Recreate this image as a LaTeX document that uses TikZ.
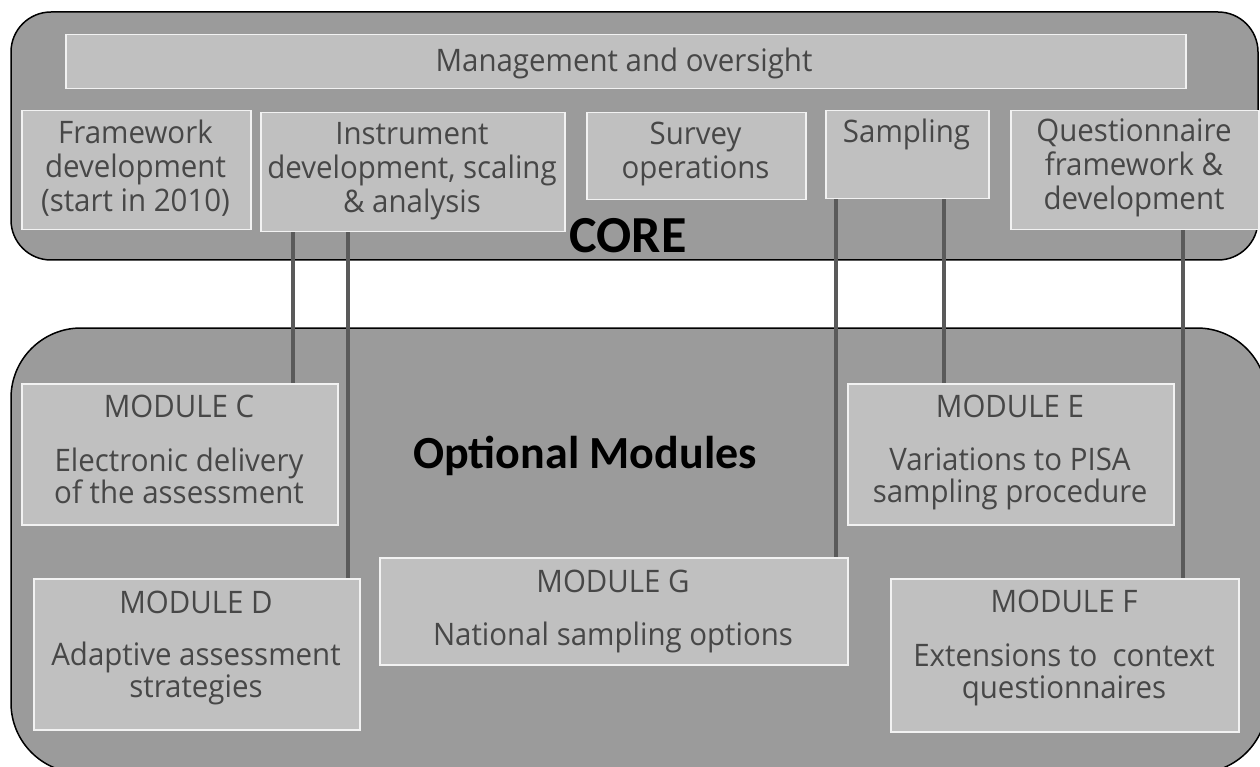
\documentclass[tikz,border=0pt]{standalone}
\usepackage{fontspec}
\setmainfont{Open Sans}[FakeStretch=0.95]
\newfontfamily\titlefont{Carlito}
\definecolor{panel}{HTML}{9B9B9B}
\definecolor{boxfill}{HTML}{C0C0C0}
\definecolor{boxline}{HTML}{F2F2F2}
\definecolor{ink}{HTML}{474747}
\definecolor{linkgray}{HTML}{5A5A5A}
\tikzset{
  panelshape/.style={draw=black, line width=1.5pt, fill=panel},
  modbox/.style={draw=boxline, fill=boxfill, line width=1.5pt, inner sep=0pt, anchor=north west},
  % multi-line texts are placed by the baseline of their last line
  txt/.style={text=ink, font=\fontsize{31}{34}\selectfont, align=center, anchor=base, inner sep=0pt},
  bodytxt/.style={txt, font=\fontsize{31}{32.5}\selectfont},
  heading/.style={text=black, inner sep=0pt, anchor=base},
  connector/.style={draw=linkgray, line width=4pt}
}
\begin{document}
\begin{tikzpicture}[x=1pt,y=-1pt]
\useasboundingbox (0,0) rectangle (1260,767);
\clip (0,0) rectangle (1260,767);

% the two rounded panels
\draw[panelshape, rounded corners=40pt] (11,12) rectangle (1258,260);
\draw[panelshape, rounded corners=70pt] (11,328) rectangle (1267,773);

% core boxes
\node[modbox, minimum width=1120, minimum height=54] (mgmt) at (65,34) {};
\node[modbox, minimum width=229, minimum height=119] (fw) at (21,110) {};
\node[modbox, minimum width=304, minimum height=119] (instr) at (260,112) {};
\node[modbox, minimum width=219, minimum height=87] (survey) at (586,112) {};
\node[modbox, minimum width=163, minimum height=88] (samp) at (825,110) {};
\node[modbox, minimum width=248, minimum height=119] (quest) at (1010,110) {};

% module boxes
\node[modbox, minimum width=316, minimum height=141] (modC) at (21,383) {};
\node[modbox, minimum width=326, minimum height=151] (modD) at (33,578) {};
\node[modbox, minimum width=468, minimum height=107] (modG) at (379,557) {};
\node[modbox, minimum width=326, minimum height=141] (modE) at (847,383) {};
\node[modbox, minimum width=348, minimum height=153] (modF) at (890,578) {};

% links from core work areas down to the optional modules
\draw[connector] ([xshift=33pt]instr.south west) -- ([xshift=33pt]instr.south west |- modC.north);
\draw[connector] ([xshift=88pt]instr.south west) -- ([xshift=88pt]instr.south west |- modD.north);
\draw[connector] ([xshift=11pt]samp.south west) -- ([xshift=11pt]samp.south west |- modG.north);
\draw[connector] ([xshift=119pt]samp.south west) -- ([xshift=119pt]samp.south west |- modE.north);
\draw[connector] ([xshift=173pt]quest.south west) -- ([xshift=173pt]quest.south west |- modF.north);

% core texts
\node[txt] (mgmtT) at (624,72) {Management and oversight};
\node[txt] (fwT) at (135.5,212) {Framework\\development\\(start in 2010)};
\node[txt] (instrT) at (412,213) {Instrument\\development, scaling\\\& analysis};
\node[txt] (surveyT) at (695.5,179) {Survey\\operations};
\node[txt] (sampT) at (906.5,143) {Sampling};
\node[txt] (questT) at (1134,210) {Questionnaire\\framework \&\\development};
\node[heading, font=\titlefont\bfseries\fontsize{52}{52}\selectfont] (coreT) at (628,252) {CORE};

% module texts
\node[txt] (modCT) at (179,417) {MODULE C};
\node[bodytxt] (modCB) at (179,503.5) {Electronic delivery\\of the assessment};
\node[txt] (modDT) at (196,613) {MODULE D};
\node[bodytxt] (modDB) at (196,697.5) {Adaptive assessment\\strategies};
\node[txt] (modGT) at (613,592) {MODULE G};
\node[bodytxt] (modGB) at (613,645) {National sampling options};
\node[txt] (modET) at (1010,417) {MODULE E};
\node[bodytxt] (modEB) at (1010,502.5) {Variations to PISA\\sampling procedure};
\node[txt] (modFT) at (1064,612) {MODULE F};
\node[bodytxt] (modFB) at (1064,698.5) {Extensions to \ context\\questionnaires};
\node[heading, font=\titlefont\bfseries\fontsize{46}{46}\selectfont] (optT) at (585,468) {Optional Modules};
\end{tikzpicture}
\end{document}
